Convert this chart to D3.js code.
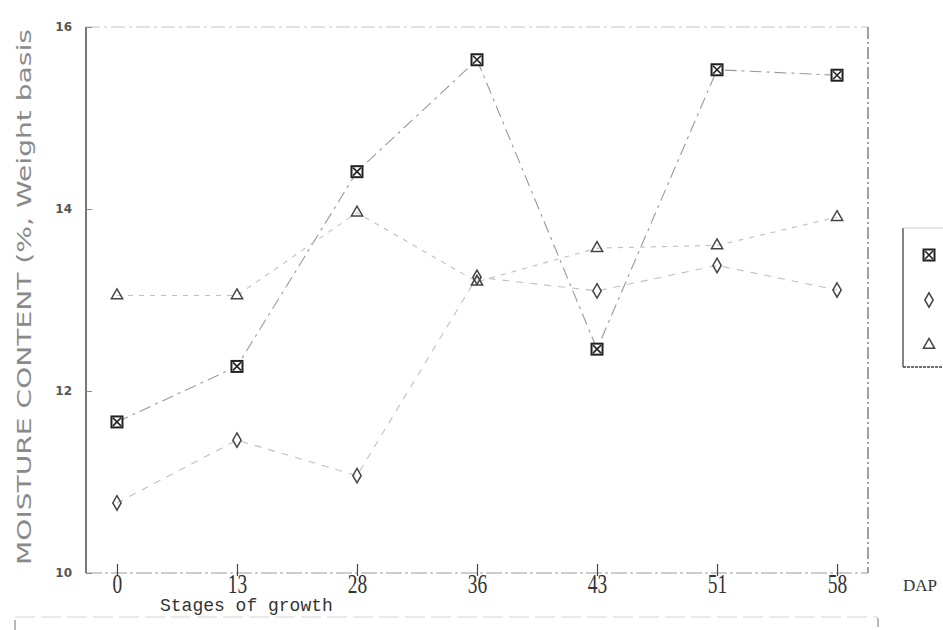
<!DOCTYPE html>
<html>
<head>
<meta charset="utf-8">
<script src="https://cdn.jsdelivr.net/npm/d3@7"></script>
<style>
  body { margin: 0; background: #fff; }
  svg { display: block; }
</style>
</head>
<body>
<svg id="chart" width="943" height="630"></svg>
<script>
// Moisture content by stage of growth (DAP), three treatments
const stages = ['0', '13', '28', '36', '43', '51', '58'];
const yTicks = [10, 12, 14, 16];
const squareSeries = [11.66, 12.27, 14.41, 15.64, 12.46, 15.53, 15.47];
const diamondSeries = [10.77, 11.46, 11.07, 13.25, 13.1, 13.38, 13.11];
const triangleSeries = [13.05, 13.05, 13.96, 13.2, 13.57, 13.6, 13.91];

const svg = d3.select('#chart');
const plot = { left: 86, right: 868, top: 27, bottom: 573 };

const x = d3.scalePoint()
    .domain(stages)
    .range([plot.left, plot.right])
    .padding(0.258);

const y = d3.scaleLinear()
    .domain([10, 16])
    .range([plot.bottom, plot.top]);

// Frame: solid left axis, dashed faint top/right/bottom
svg.append('line')
    .attr('x1', plot.left).attr('x2', plot.left).attr('y1', plot.top).attr('y2', plot.bottom)
    .style('stroke', '#555').style('stroke-width', 1.6);
svg.append('line')
    .attr('x1', plot.left).attr('x2', plot.right).attr('y1', plot.top).attr('y2', plot.top)
    .style('stroke', '#c4c4c4').style('stroke-width', 1).style('stroke-dasharray', '14,4,3,4');
svg.append('line')
    .attr('x1', plot.right).attr('x2', plot.right).attr('y1', plot.top).attr('y2', plot.bottom)
    .style('stroke', '#777').style('stroke-width', 1.4).style('stroke-dasharray', '12,3,2,3');
svg.append('line')
    .attr('x1', plot.left).attr('x2', plot.right).attr('y1', plot.bottom).attr('y2', plot.bottom)
    .style('stroke', '#999').style('stroke-width', 1.2).style('stroke-dasharray', '16,3,3,3');

// Y axis
const yAxis = svg.append('g')
    .attr('transform', `translate(${plot.left},0)`)
    .call(d3.axisLeft(y).tickValues(yTicks).tickFormat(d3.format('d')).tickSize(-6).tickPadding(14));
yAxis.select('.domain').remove();
yAxis.selectAll('.tick line').style('stroke', '#888');
yAxis.selectAll('.tick text')
    .style('font-family', 'DejaVu Sans, sans-serif')
    .style('font-size', '12px')
    .style('font-weight', 'bold')
    .style('fill', '#555');

// X axis
const xAxis = svg.append('g')
    .attr('transform', `translate(0,${plot.bottom})`)
    .call(d3.axisBottom(x).tickSize(-9).tickPadding(1));
xAxis.select('.domain').remove();
xAxis.selectAll('.tick line')
    .attr('y1', 3)
    .style('stroke', '#444').style('stroke-width', 1.2);
xAxis.selectAll('.tick text')
    .attr('transform', 'scale(0.72,1)')
    .style('font-family', 'Liberation Serif, serif')
    .style('font-size', '27px')
    .style('fill', '#333');

// Axis titles
svg.append('text')
    .attr('transform', 'translate(31,297) rotate(-90) scale(1.48,1)')
    .style('font-family', 'DejaVu Sans, sans-serif')
    .style('font-size', '19px')
    .style('fill', '#8a8a8a')
    .style('text-anchor', 'middle')
    .text('MOISTURE CONTENT (%, Weight basis');

svg.append('text')
    .attr('x', 160).attr('y', 611)
    .style('font-family', 'Liberation Mono, monospace')
    .style('font-size', '18px')
    .style('fill', '#333')
    .text('Stages of growth');

svg.append('text')
    .attr('x', 903).attr('y', 591)
    .style('font-family', 'Liberation Serif, serif')
    .style('font-size', '17px')
    .style('fill', '#333')
    .text('DAP');

// faint line of the next frame at the page bottom
svg.append('line')
    .attr('x1', 15).attr('x2', 878).attr('y1', 617).attr('y2', 617)
    .style('stroke', '#e4e4e4').style('stroke-width', 1.5).style('stroke-dasharray', '20,6');
svg.append('line')
    .attr('x1', 15).attr('x2', 15).attr('y1', 620).attr('y2', 630)
    .style('stroke', '#888').style('stroke-width', 1.2);
svg.append('line')
    .attr('x1', 878).attr('x2', 878).attr('y1', 618).attr('y2', 627)
    .style('stroke', '#888').style('stroke-width', 1.2);

// Series
const series = [
    { key: 'square', values: squareSeries, dash: '12,5,3,5', stroke: '#9a9a9a' },
    { key: 'diamond', values: diamondSeries, dash: '7,7', stroke: '#c0c0c0' },
    { key: 'triangle', values: triangleSeries, dash: '5,6', stroke: '#c0c0c0' }
];

const line = d3.line()
    .x((d, i) => x(stages[i]))
    .y(d => y(d));

svg.selectAll('.series-line')
    .data(series)
    .enter()
    .append('path')
    .attr('class', 'series-line')
    .attr('d', d => line(d.values))
    .style('fill', 'none')
    .style('stroke', d => d.stroke)
    .style('stroke-width', 1.1)
    .style('stroke-dasharray', d => d.dash);

function drawMarker(g, key, cx, cy) {
    if (key === 'square') {
        g.append('rect')
            .attr('x', cx - 5.5).attr('y', cy - 5.5)
            .attr('width', 11).attr('height', 11)
            .style('fill', '#fff').style('stroke', '#222').style('stroke-width', 2);
        g.append('path')
            .attr('d', `M${cx - 4},${cy - 4}L${cx + 4},${cy + 4}M${cx + 4},${cy - 4}L${cx - 4},${cy + 4}`)
            .style('stroke', '#222').style('stroke-width', 1.6);
    } else {
        const type = key === 'diamond' ? d3.symbolDiamond : d3.symbolTriangle;
        g.append('path')
            .attr('transform', `translate(${cx},${cy})`)
            .attr('d', d3.symbol().type(type).size(key === 'diamond' ? 60 : 55)())
            .style('fill', 'none')
            .style('stroke', '#444')
            .style('stroke-width', 1.5);
    }
}

// draw triangles and diamonds first so squares sit on top
['triangle', 'diamond', 'square'].forEach(key => {
    const s = series.find(d => d.key === key);
    const g = svg.append('g').attr('class', 'markers-' + key);
    s.values.forEach((v, i) => drawMarker(g, key, x(stages[i]), y(v)));
});

// Legend (box runs off the right edge)
const legend = svg.append('g').attr('class', 'legend');
legend.append('line')
    .attr('x1', 903).attr('x2', 903).attr('y1', 228).attr('y2', 367)
    .style('stroke', '#666').style('stroke-width', 1.6);
legend.append('line')
    .attr('x1', 903).attr('x2', 943).attr('y1', 228).attr('y2', 228)
    .style('stroke', '#ccc').style('stroke-width', 1);
legend.append('line')
    .attr('x1', 903).attr('x2', 943).attr('y1', 367).attr('y2', 367)
    .style('stroke', '#444').style('stroke-width', 1.6).style('stroke-dasharray', '3,1');
['square', 'diamond', 'triangle'].forEach((key, i) => {
    drawMarker(legend, key, 929, 255 + i * 45);
});
</script>
</body>
</html>
